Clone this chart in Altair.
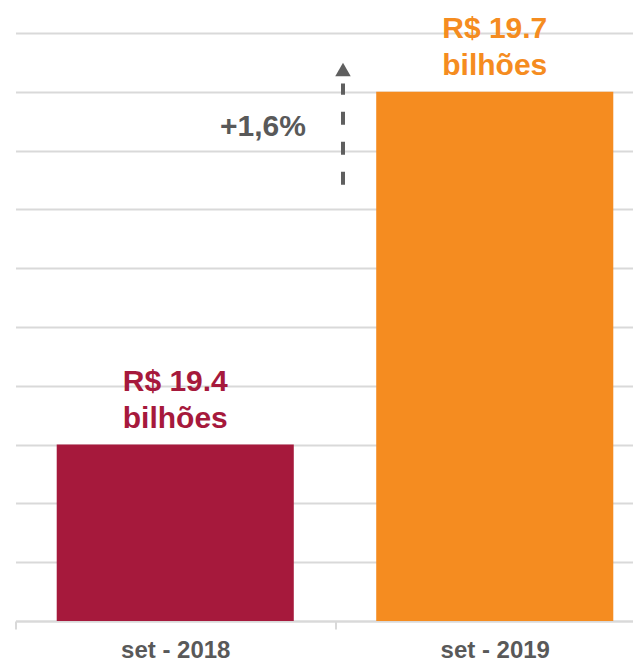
import altair as alt
import pandas as pd

# ---- data ----
categories = ["set - 2018", "set - 2019"]
values = [19.4, 19.7]
bar_colors = ["#A6193C", "#F58C20"]
value_labels = ["R$ 19.4", "R$ 19.7"]
unit_labels = ["bilhões", "bilhões"]
grid_values = [19.25, 19.30, 19.35, 19.40, 19.45, 19.50, 19.55, 19.60, 19.65, 19.70, 19.75]
y_domain = [19.25, 19.75]

change_label = ["+1,6%"]
change_label_y = [19.67]
arrow_from = [19.621]
arrow_to = [19.707]
arrow_head_y = [19.719]
arrow_category = ["set - 2019"]

FONT = "Liberation Sans"
GRAY = "#595959"
GRID = "#D9D9D9"

bars_df = pd.DataFrame({
    "periodo": categories,
    "valor": values,
    "rotulo": value_labels,
    "unidade": unit_labels,
})
arrow_df = pd.DataFrame({
    "periodo": arrow_category,
    "inicio": arrow_from,
    "fim": arrow_to,
    "ponta": arrow_head_y,
    "texto": change_label,
    "texto_y": change_label_y,
})

x_scale = alt.Scale(domain=categories, range=[0, 639], paddingInner=0, paddingOuter=0)
y_scale = alt.Scale(domain=y_domain, zero=False, nice=False)
color_scale = alt.Scale(domain=categories, range=bar_colors)

x_main = alt.X(
    "periodo:N", sort=categories, scale=x_scale, title=None,
    axis=alt.Axis(
        labelAngle=0, labelFont=FONT, labelFontSize=24, labelFontWeight="bold",
        labelColor=GRAY, labelPadding=9, tickBand="extent", tickColor=GRID,
        tickWidth=2, tickSize=8, domainColor=GRID, domainWidth=2, grid=False,
    ),
)
y_main = alt.Y(
    "valor:Q", scale=y_scale, title=None,
    axis=alt.Axis(values=grid_values, labels=False, ticks=False, domain=False,
                  grid=True, gridColor=GRID, gridWidth=2),
)
color_enc = alt.Color("periodo:N", scale=color_scale, legend=None)

bars = alt.Chart(bars_df).mark_bar(width=alt.RelativeBandSize(0.742)).encode(
    x=x_main, y=y_main, y2=alt.datum(y_domain[0]), color=color_enc,
)

line1 = alt.Chart(bars_df).mark_text(
    font=FONT, fontSize=30, fontWeight="bold", baseline="alphabetic", dy=-54,
).encode(
    x=alt.X("periodo:N", sort=categories), y=alt.Y("valor:Q"),
    text="rotulo:N", color=color_enc,
)
line2 = alt.Chart(bars_df).mark_text(
    font=FONT, fontSize=30, fontWeight="bold", baseline="alphabetic", dy=-17,
).encode(
    x=alt.X("periodo:N", sort=categories), y=alt.Y("valor:Q"),
    text="unidade:N", color=color_enc,
)

arrow_line = alt.Chart(arrow_df).mark_rule(
    strokeDash=[13, 17], strokeWidth=4, color="#5F5F5F", xOffset=8,
).encode(
    x=alt.X("periodo:N", sort=categories, bandPosition=0),
    y=alt.Y("inicio:Q"), y2="fim:Q",
)
arrow_head = alt.Chart(arrow_df).mark_point(
    shape="triangle-up", filled=True, size=240, color="#5F5F5F", opacity=1, xOffset=8,
).encode(
    x=alt.X("periodo:N", sort=categories, bandPosition=0),
    y=alt.Y("ponta:Q"),
)
change_text = alt.Chart(arrow_df).mark_text(
    font=FONT, fontSize=30, fontWeight="bold", color=GRAY, baseline="middle", dx=-72,
).encode(
    x=alt.X("periodo:N", sort=categories, bandPosition=0),
    y=alt.Y("texto_y:Q"), text="texto:N",
)

chart = alt.layer(bars, line1, line2, arrow_line, arrow_head, change_text).properties(
    width=617, height=588,
    autosize=alt.AutoSizeParams(type="none"),
    padding={"left": 7.5, "top": 25, "right": 0, "bottom": 42},
).configure_view(stroke=None)

chart.save("out.html", embed_options={"renderer": "svg", "actions": False})
